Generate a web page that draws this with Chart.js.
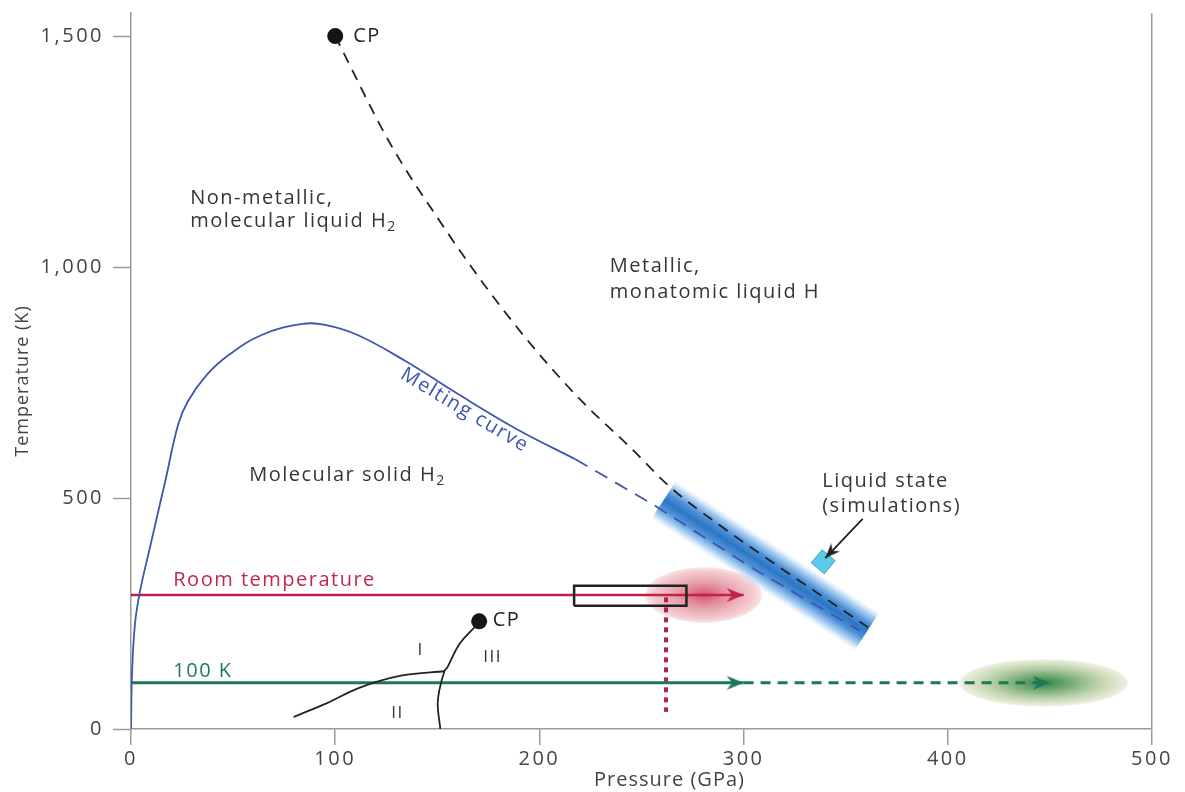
<!DOCTYPE html>
<html>
<head>
<meta charset="utf-8">
<script src="https://cdn.jsdelivr.net/npm/chart.js@4.4.1/dist/chart.umd.min.js"></script>
<style>
  html, body { margin: 0; padding: 0; background: #fff; }
  #wrap { width: 1185px; height: 792px; }
</style>
</head>
<body>
<div id="wrap"><canvas id="c" width="1185" height="792"></canvas></div>
<script>
// ---- axis ticks ----
const xTicks = [0, 100, 200, 300, 400, 500];
const yTicks = [0, 500, 1000, 1500];

// ---- melting curve of molecular solid H2 (pressure GPa, temperature K) ----
const meltP = [0, 0.5, 2, 4.5, 8.9, 16.8, 23.1, 27.8, 37.2, 48, 64, 84, 95, 111, 135, 158, 189, 217.6];
const meltT = [0, 120, 230, 300, 386, 537, 659, 709, 767, 810, 853, 877, 875, 853, 795, 731, 649, 584];
// extrapolated part of the melting curve
const meltExtP = [217.6, 255.3, 306.3, 356.8];
const meltExtT = [584, 487, 343, 213];

// liquid-liquid (molecular -> metallic) transition line from the critical point
const llP = [100, 126.7, 150.2, 173.8, 197.3, 220.9, 244.4, 264.7, 291.5, 316.7, 361];
const llT = [1500, 1269, 1106, 957, 825, 709, 610, 521, 431, 353, 220];

// solid phase boundaries I-II and I-III
const b12P = [79.6, 96, 111.1, 132.8, 153.5];
const b12T = [26, 56, 88, 116, 125];
const b13P = [151.5, 150.2, 151, 153.5, 155, 161, 169, 170.5];
const b13T = [0, 52, 84, 125, 134, 185, 224, 233];

// critical points
const cpP = [100, 170.5];
const cpT = [1500, 233];

// room-temperature compression path
const roomP = [0, 300];
const roomT = 290;
// 100 K compression path and its extension
const coldP = [0, 300];
const coldExtP = [300, 450];
const coldT = 100;

// experimental window and its pressure marker
const boxP = [217, 272];
const boxT = [267, 310];
const dropP = 262;
const dropT = [285, 37];

// shaded regions (pressure / temperature extents)
const warmSpotP = [252, 309];
const warmSpotT = [230, 350];
const coldSpotP = [406, 488];
const coldSpotT = [49, 151];

// simulated liquid-state band (centre line)
const simBandP = [260.9, 360.4];
const simBandT = [496, 211];
// simulation marker and pointer
const simMarkP = 339;
const simMarkT = 362;
const pointerP = [358.3, 340];
const pointerT = [455, 370];

const FONT = "'Open Sans', sans-serif";
const BAND_W = 44;

const pts = (ps, ts) => ps.map((p, i) => ({ x: p, y: Array.isArray(ts) ? ts[i] : ts }));
const mean = a => (a[0] + a[1]) / 2;

// barbed arrowhead, tip at the canvas centre so the point marks the tip
function arrowHead(color, len, half) {
  const c = document.createElement('canvas');
  c.width = len * 2 + 4; c.height = half * 2 + 4;
  const g = c.getContext('2d');
  const cx = len + 2, cy = half + 2;
  g.fillStyle = color;
  g.beginPath();
  g.moveTo(cx, cy);
  g.lineTo(cx - len, cy - half);
  g.lineTo(cx - len * 0.68, cy);
  g.lineTo(cx - len, cy + half);
  g.closePath();
  g.fill();
  return c;
}

// soft elliptical spot, sized from the scales
function spotStyle(ps, ts, stops) {
  return (ctx) => {
    const sx = ctx.chart.scales.x, sy = ctx.chart.scales.y;
    const w = Math.abs(sx.getPixelForValue(ps[1]) - sx.getPixelForValue(ps[0]));
    const h = Math.abs(sy.getPixelForValue(ts[1]) - sy.getPixelForValue(ts[0]));
    const c = document.createElement('canvas');
    c.width = Math.ceil(w); c.height = Math.ceil(h);
    const g = c.getContext('2d');
    g.translate(c.width / 2, c.height / 2);
    g.scale(w / 2, h / 2);
    const grad = g.createRadialGradient(0, 0, 0, 0, 0, 1);
    stops.forEach(([o, col]) => grad.addColorStop(o, col));
    g.fillStyle = grad;
    g.beginPath(); g.arc(0, 0, 1, 0, Math.PI * 2); g.fill();
    return c;
  };
}

// colour across the simulation band, fading towards its edges
function bandGradient(c) {
  const chart = c.chart;
  const sx = chart.scales.x, sy = chart.scales.y;
  if (!sx || !sy || !chart.chartArea) return '#2f7bc9';
  const x0 = sx.getPixelForValue(simBandP[0]), y0 = sy.getPixelForValue(simBandT[0]);
  const x1 = sx.getPixelForValue(simBandP[1]), y1 = sy.getPixelForValue(simBandT[1]);
  const dx = x1 - x0, dy = y1 - y0, L = Math.hypot(dx, dy);
  const nx = -dy / L, ny = dx / L, h = BAND_W / 2;
  const mx = (x0 + x1) / 2, my = (y0 + y1) / 2;
  const g = chart.ctx.createLinearGradient(mx - nx * h, my - ny * h, mx + nx * h, my + ny * h);
  g.addColorStop(0, 'rgba(190,220,248,0.15)');
  g.addColorStop(0.14, 'rgba(140,190,238,0.75)');
  g.addColorStop(0.32, 'rgba(70,140,212,0.95)');
  g.addColorStop(0.5, 'rgba(44,118,198,1)');
  g.addColorStop(0.68, 'rgba(70,140,212,0.95)');
  g.addColorStop(0.86, 'rgba(140,190,238,0.75)');
  g.addColorStop(1, 'rgba(190,220,248,0.15)');
  return g;
}

function pixAngle(chart, ps, ts) {
  const sx = chart.scales.x, sy = chart.scales.y;
  const dx = sx.getPixelForValue(ps[1]) - sx.getPixelForValue(ps[0]);
  const dy = sy.getPixelForValue(ts[1]) - sy.getPixelForValue(ts[0]);
  return Math.atan2(dy, dx) * 180 / Math.PI;
}

const line = (data, color, width, extra) => Object.assign({
  data, showLine: true, borderColor: color, borderWidth: width,
  pointRadius: 0, fill: false, tension: 0, order: 5
}, extra || {});

const smooth = { cubicInterpolationMode: 'monotone', tension: 0.4 };

const datasets = [
  // shaded spots
  { data: [{ x: mean(warmSpotP), y: mean(warmSpotT) }], pointRadius: 10, order: 20,
    pointStyle: spotStyle(warmSpotP, warmSpotT, [[0, 'rgba(205,45,72,0.82)'], [0.45, 'rgba(216,96,112,0.62)'], [0.85, 'rgba(230,150,160,0.5)'], [1, 'rgba(238,182,188,0.38)']]) },
  { data: [{ x: mean(coldSpotP), y: mean(coldSpotT) }], pointRadius: 10, order: 20,
    pointStyle: spotStyle(coldSpotP, coldSpotT, [[0, 'rgba(28,122,58,0.95)'], [0.4, 'rgba(90,150,82,0.72)'], [0.8, 'rgba(170,192,132,0.52)'], [1, 'rgba(205,214,175,0.38)']]) },

  // simulated liquid band
  line(pts(simBandP, simBandT), bandGradient, BAND_W, { borderCapStyle: 'butt', order: 15 }),

  // melting curve and its extrapolation
  line(pts(meltP, meltT), '#3d56b0', 1.8, { tension: 0.4 }),
  line(pts(meltExtP, meltExtT), '#3d56b0', 1.8, { borderDash: [14, 9] }),

  // liquid-liquid transition
  line(pts(llP, llT), '#222', 1.8, Object.assign({ borderDash: [11, 8] }, smooth)),

  // solid phase boundaries
  line(pts(b12P, b12T), '#222', 1.8, smooth),
  line(pts(b13P, b13T), '#222', 1.8, { tension: 0.4 }),

  // compression paths
  line(pts(roomP, roomT), '#c0234a', 2.5),
  line(pts(coldP, coldT), '#1b7a55', 3),
  line(pts(coldExtP, coldT), '#1b7a55', 3, { borderDash: [10, 7] }),

  // experimental window and pressure marker
  line([{ x: boxP[0], y: boxT[0] }, { x: boxP[1], y: boxT[0] }, { x: boxP[1], y: boxT[1] },
        { x: boxP[0], y: boxT[1] }, { x: boxP[0], y: boxT[0] }], '#222', 2.5, { order: 4 }),
  line(pts([dropP, dropP], dropT), '#b5234a', 4, { borderDash: [5, 5], borderCapStyle: 'butt' }),

  // arrowheads
  { data: [{ x: roomP[1], y: roomT }], pointRadius: 10, pointStyle: arrowHead('#c0234a', 17, 7), order: 3 },
  { data: [{ x: coldP[1], y: coldT }], pointRadius: 10, pointStyle: arrowHead('#1b7a55', 17, 7), order: 3 },
  { data: [{ x: coldExtP[1], y: coldT }], pointRadius: 10, pointStyle: arrowHead('#1b7a55', 17, 7), order: 3 },

  // critical points
  { data: pts(cpP, cpT), pointRadius: 8, pointStyle: 'circle', backgroundColor: '#151515', borderWidth: 0, order: 3 },

  // simulation marker with pointer
  { data: [{ x: simMarkP, y: simMarkT }], pointRadius: 12, pointStyle: 'rect', pointRotation: 40,
    backgroundColor: '#5ccbea', borderColor: '#3d9ec6', borderWidth: 1, order: 3 },
  line(pts(pointerP, pointerT), '#222', 1.8, { order: 2 }),
  { data: [{ x: pointerP[1], y: pointerT[1] }], pointRadius: 10, pointStyle: arrowHead('#222', 15, 6), order: 1,
    pointRotation: (c) => pixAngle(c.chart, pointerP, pointerT) }
];

// region and curve labels (anchored in data coordinates)
const notes = [
  { text: 'CP', p: 108.8, t: 1500, size: 20, color: '#222' },
  { text: 'Non-metallic,', p: 29, t: 1149 },
  { text: 'molecular liquid H_2', p: 29, t: 1100 },
  { text: 'Metallic,', p: 234.5, t: 1002 },
  { text: 'monatomic liquid H', p: 234.5, t: 946 },
  { text: 'Melting curve', p: 163.4, t: 690, color: '#3c56b2', align: 'center', along: [[158, 189], [731, 649]] },
  { text: 'Molecular solid H_2', p: 57.9, t: 550 },
  { text: 'Liquid state', p: 338.5, t: 537 },
  { text: '(simulations)', p: 338.5, t: 483 },
  { text: 'Room temperature', p: 20.7, t: 321, color: '#c0284c' },
  { text: '100 K', p: 20.7, t: 124, color: '#1f7a58' },
  { text: 'CP', p: 177.1, t: 235, color: '#222' },
  { text: 'I', p: 141.8, t: 170, align: 'center', size: 17 },
  { text: 'III', p: 177.1, t: 155, align: 'center', size: 17 },
  { text: 'II', p: 130.5, t: 34, align: 'center', size: 17 }
];

function drawRich(ctx, text, size, align) {
  const segs = text.split('_');
  const parts = [];
  segs.forEach((s, i) => {
    if (i === 0) { if (s) parts.push({ s, sub: false }); }
    else {
      parts.push({ s: s[0], sub: true });
      if (s.length > 1) parts.push({ s: s.slice(1), sub: false });
    }
  });
  const fN = `${size}px ${FONT}`, fS = `${Math.round(size * 0.68)}px ${FONT}`;
  let total = 0;
  parts.forEach(p => { ctx.font = p.sub ? fS : fN; p.w = ctx.measureText(p.s).width; total += p.w; });
  let x = align === 'center' ? -total / 2 : 0;
  ctx.textAlign = 'left';
  parts.forEach(p => {
    ctx.font = p.sub ? fS : fN;
    ctx.fillText(p.s, x, p.sub ? size * 0.32 : 0);
    x += p.w;
  });
}

const spacingPlugin = {
  id: 'spacing',
  beforeDraw(chart) { chart.ctx.letterSpacing = '2.5px'; }
};

const notesPlugin = {
  id: 'notes',
  afterDatasetsDraw(chart) {
    const { ctx } = chart;
    const sx = chart.scales.x, sy = chart.scales.y;
    notes.forEach(n => {
      ctx.save();
      ctx.letterSpacing = '1.5px';
      ctx.translate(sx.getPixelForValue(n.p), sy.getPixelForValue(n.t));
      if (n.along) ctx.rotate(pixAngle(chart, n.along[0], n.along[1]) * Math.PI / 180);
      ctx.fillStyle = n.color || '#363636';
      ctx.textBaseline = 'middle';
      drawRich(ctx, n.text, n.size || 20, n.align || 'left');
      ctx.restore();
    });
  }
};

// axis titles use tighter spacing than the tick labels and are nudged off centre
function tuneTitle(dx, dy) {
  return (s) => {
    if (s._titleTuned) return;
    const orig = s.drawTitle.bind(s);
    s.drawTitle = () => {
      const c = s.ctx;
      c.save();
      c.letterSpacing = '1px';
      c.translate(dx, dy);
      orig();
      c.restore();
    };
    s._titleTuned = true;
  };
}

const axisGrey = '#9a9a9a';

new Chart(document.getElementById('c'), {
  type: 'scatter',
  data: { datasets },
  options: {
    responsive: false,
    animation: false,
    devicePixelRatio: 1,
    events: [],
    layout: { padding: { top: 10, right: 33, left: 0, bottom: 0 } },
    plugins: { legend: { display: false }, tooltip: { enabled: false } },
    scales: {
      x: {
        type: 'linear', min: 0, max: 500,
        afterBuildTicks: s => { s.ticks = xTicks.map(v => ({ value: v })); },
        afterFit: s => { s.height = 63; s.paddingLeft = 0; s.paddingRight = 0; },
        afterUpdate: tuneTitle(28, 0),
        border: { color: axisGrey, width: 1.5 },
        grid: {
          color: c => (c.tick && c.tick.value === 500) ? axisGrey : 'rgba(0,0,0,0)',
          lineWidth: 1.5, tickLength: 16, tickColor: axisGrey, tickWidth: 1.5
        },
        ticks: { color: '#444', font: { family: FONT, size: 20 }, padding: 2, maxRotation: 0 },
        title: { display: true, text: 'Pressure (GPa)', color: '#444',
                 font: { family: FONT, size: 20 }, padding: { top: 0, bottom: 0 } }
      },
      y: {
        type: 'linear', min: 0, max: 1550,
        afterBuildTicks: s => { s.ticks = yTicks.map(v => ({ value: v })); },
        afterFit: s => { s.width = 131; s.paddingTop = 0; s.paddingBottom = 0; },
        afterUpdate: tuneTitle(0, 10),
        border: { color: axisGrey, width: 1.5 },
        grid: { drawOnChartArea: false, tickLength: 18, tickColor: axisGrey, tickWidth: 1.5 },
        ticks: { color: '#444', font: { family: FONT, size: 20 }, padding: 9,
                 callback: v => v.toLocaleString('en-US') },
        title: { display: true, text: 'Temperature (K)', color: '#444',
                 font: { family: FONT, size: 18 }, padding: { top: 12, bottom: 0 } }
      }
    }
  },
  plugins: [spacingPlugin, notesPlugin]
});
</script>
</body>
</html>
